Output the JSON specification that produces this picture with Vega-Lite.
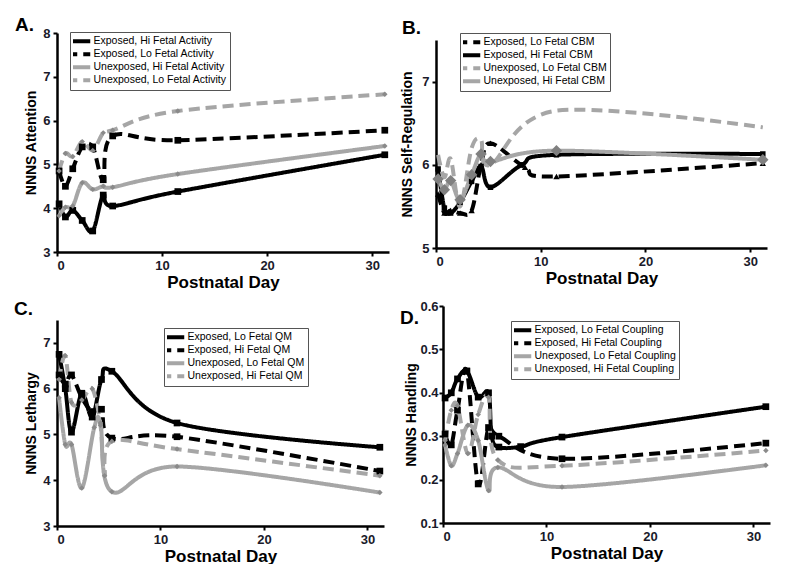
{
  "$schema": "https://vega.github.io/schema/vega-lite/v6.json",
  "background": "white",
  "padding": {"left": 14, "top": 16, "right": 0, "bottom": 0},
  "config": {
    "view": {"stroke": null},
    "font": "Liberation Sans",
    "axis": {
      "grid": false, "domainColor": "#000", "domainWidth": 2.5, "tickColor": "#000", "tickWidth": 2, "tickSize": 4,
      "labelFont": "Liberation Sans", "labelFontSize": 13, "labelFontWeight": "bold", "labelColor": "#1a1a2a",
      "titleFont": "Liberation Sans", "titleFontWeight": "bold", "titleColor": "#000"
    },
    "axisX": {"titleFontSize": 17, "titlePadding": 2, "labelPadding": 3},
    "axisY": {"titleFontSize": 14, "titlePadding": 4, "labelPadding": 3},
    "legend": {
      "orient": "none", "title": null, "symbolType": "M-4,0H4", "symbolStrokeWidth": 4, "symbolSize": 36,
      "labelFont": "Liberation Sans", "labelFontSize": 10.5, "labelLimit": 0, "labelOffset": 10,
      "strokeColor": "#555", "padding": 3, "rowPadding": 0, "clipHeight": 12.5, "symbolOffset": 0, "fillColor": "white"
    },
    "title": {"font": "Liberation Sans", "fontSize": 19, "fontWeight": "bold", "anchor": "start", "frame": "group", "color": "#000", "offset": -30}
  },
  "resolve": {
    "scale": {"x": "independent", "y": "independent", "color": "independent", "strokeDash": "independent"},
    "legend": {"color": "independent", "strokeDash": "independent"}
  },
  "columns": 2,
  "align": "none",
  "spacing": {"column": 7, "row": 10},
  "datasets": {
    "A": [
      {"series": "Exposed, Hi Fetal Activity", "day": 0.2, "value": 4.1},
      {"series": "Exposed, Hi Fetal Activity", "day": 0.8, "value": 3.8},
      {"series": "Exposed, Hi Fetal Activity", "day": 1.5, "value": 3.95},
      {"series": "Exposed, Hi Fetal Activity", "day": 2.4, "value": 3.72},
      {"series": "Exposed, Hi Fetal Activity", "day": 3.4, "value": 3.48},
      {"series": "Exposed, Hi Fetal Activity", "day": 4.4, "value": 4.3},
      {"series": "Exposed, Hi Fetal Activity", "day": 5.3, "value": 4.05},
      {"series": "Exposed, Hi Fetal Activity", "day": 11.5, "value": 4.38},
      {"series": "Exposed, Hi Fetal Activity", "day": 31.2, "value": 5.22},
      {"series": "Exposed, Lo Fetal Activity", "day": 0.2, "value": 4.85},
      {"series": "Exposed, Lo Fetal Activity", "day": 0.8, "value": 4.5},
      {"series": "Exposed, Lo Fetal Activity", "day": 1.5, "value": 4.9},
      {"series": "Exposed, Lo Fetal Activity", "day": 2.4, "value": 5.4},
      {"series": "Exposed, Lo Fetal Activity", "day": 3.4, "value": 5.4},
      {"series": "Exposed, Lo Fetal Activity", "day": 4.4, "value": 4.65},
      {"series": "Exposed, Lo Fetal Activity", "day": 5.3, "value": 5.65},
      {"series": "Exposed, Lo Fetal Activity", "day": 11.5, "value": 5.55},
      {"series": "Exposed, Lo Fetal Activity", "day": 31.2, "value": 5.78},
      {"series": "Unexposed, Hi Fetal Activity", "day": 0.2, "value": 3.83},
      {"series": "Unexposed, Hi Fetal Activity", "day": 0.8, "value": 4.02},
      {"series": "Unexposed, Hi Fetal Activity", "day": 1.5, "value": 4.05},
      {"series": "Unexposed, Hi Fetal Activity", "day": 2.4, "value": 4.58},
      {"series": "Unexposed, Hi Fetal Activity", "day": 3.4, "value": 4.43},
      {"series": "Unexposed, Hi Fetal Activity", "day": 4.4, "value": 4.5},
      {"series": "Unexposed, Hi Fetal Activity", "day": 5.3, "value": 4.48},
      {"series": "Unexposed, Hi Fetal Activity", "day": 11.5, "value": 4.78},
      {"series": "Unexposed, Hi Fetal Activity", "day": 31.2, "value": 5.42},
      {"series": "Unexposed, Lo Fetal Activity", "day": 0.2, "value": 4.85},
      {"series": "Unexposed, Lo Fetal Activity", "day": 0.8, "value": 5.25},
      {"series": "Unexposed, Lo Fetal Activity", "day": 1.5, "value": 5.18},
      {"series": "Unexposed, Lo Fetal Activity", "day": 2.4, "value": 5.52},
      {"series": "Unexposed, Lo Fetal Activity", "day": 3.4, "value": 5.32},
      {"series": "Unexposed, Lo Fetal Activity", "day": 4.4, "value": 5.72},
      {"series": "Unexposed, Lo Fetal Activity", "day": 5.3, "value": 5.78},
      {"series": "Unexposed, Lo Fetal Activity", "day": 11.5, "value": 6.22},
      {"series": "Unexposed, Lo Fetal Activity", "day": 31.2, "value": 6.6}
    ],
    "B": [
      {"series": "Exposed, Lo Fetal CBM", "day": 0.2, "value": 5.65},
      {"series": "Exposed, Lo Fetal CBM", "day": 0.8, "value": 5.42},
      {"series": "Exposed, Lo Fetal CBM", "day": 1.4, "value": 5.45},
      {"series": "Exposed, Lo Fetal CBM", "day": 2.3, "value": 5.42},
      {"series": "Exposed, Lo Fetal CBM", "day": 3.4, "value": 5.45},
      {"series": "Exposed, Lo Fetal CBM", "day": 4.3, "value": 6.0},
      {"series": "Exposed, Lo Fetal CBM", "day": 5.2, "value": 6.26},
      {"series": "Exposed, Lo Fetal CBM", "day": 8.5, "value": 5.97},
      {"series": "Exposed, Lo Fetal CBM", "day": 11.5, "value": 5.86},
      {"series": "Exposed, Lo Fetal CBM", "day": 31.2, "value": 6.02},
      {"series": "Exposed, Hi Fetal CBM", "day": 0.2, "value": 5.95},
      {"series": "Exposed, Hi Fetal CBM", "day": 0.8, "value": 5.48},
      {"series": "Exposed, Hi Fetal CBM", "day": 1.4, "value": 5.42},
      {"series": "Exposed, Hi Fetal CBM", "day": 2.3, "value": 5.55},
      {"series": "Exposed, Hi Fetal CBM", "day": 3.4, "value": 5.8},
      {"series": "Exposed, Hi Fetal CBM", "day": 4.3, "value": 5.98},
      {"series": "Exposed, Hi Fetal CBM", "day": 5.2, "value": 5.73},
      {"series": "Exposed, Hi Fetal CBM", "day": 8.2, "value": 6.0},
      {"series": "Exposed, Hi Fetal CBM", "day": 11.5, "value": 6.12},
      {"series": "Exposed, Hi Fetal CBM", "day": 31.2, "value": 6.13},
      {"series": "Unexposed, Lo Fetal CBM", "day": 0.2, "value": 6.12},
      {"series": "Unexposed, Lo Fetal CBM", "day": 0.8, "value": 5.85},
      {"series": "Unexposed, Lo Fetal CBM", "day": 1.4, "value": 6.07},
      {"series": "Unexposed, Lo Fetal CBM", "day": 2.3, "value": 5.5},
      {"series": "Unexposed, Lo Fetal CBM", "day": 3.4, "value": 6.2},
      {"series": "Unexposed, Lo Fetal CBM", "day": 4.3, "value": 6.3},
      {"series": "Unexposed, Lo Fetal CBM", "day": 5.2, "value": 6.0},
      {"series": "Unexposed, Lo Fetal CBM", "day": 11.5, "value": 6.65},
      {"series": "Unexposed, Lo Fetal CBM", "day": 31.2, "value": 6.45},
      {"series": "Unexposed, Hi Fetal CBM", "day": 0.2, "value": 5.83},
      {"series": "Unexposed, Hi Fetal CBM", "day": 0.8, "value": 5.7},
      {"series": "Unexposed, Hi Fetal CBM", "day": 1.4, "value": 5.81},
      {"series": "Unexposed, Hi Fetal CBM", "day": 2.3, "value": 5.58},
      {"series": "Unexposed, Hi Fetal CBM", "day": 3.4, "value": 5.88},
      {"series": "Unexposed, Hi Fetal CBM", "day": 4.3, "value": 6.13},
      {"series": "Unexposed, Hi Fetal CBM", "day": 5.2, "value": 6.04},
      {"series": "Unexposed, Hi Fetal CBM", "day": 11.5, "value": 6.17},
      {"series": "Unexposed, Hi Fetal CBM", "day": 31.2, "value": 6.06}
    ],
    "C": [
      {"series": "Exposed, Lo Fetal QM", "day": 0.2, "value": 6.75},
      {"series": "Exposed, Lo Fetal QM", "day": 0.8, "value": 6.0},
      {"series": "Exposed, Lo Fetal QM", "day": 1.4, "value": 5.05},
      {"series": "Exposed, Lo Fetal QM", "day": 2.4, "value": 5.9},
      {"series": "Exposed, Lo Fetal QM", "day": 3.4, "value": 5.38},
      {"series": "Exposed, Lo Fetal QM", "day": 4.3, "value": 6.2},
      {"series": "Exposed, Lo Fetal QM", "day": 5.3, "value": 6.38},
      {"series": "Exposed, Lo Fetal QM", "day": 11.6, "value": 5.25},
      {"series": "Exposed, Lo Fetal QM", "day": 31.2, "value": 4.72},
      {"series": "Exposed, Hi Fetal QM", "day": 0.2, "value": 6.3},
      {"series": "Exposed, Hi Fetal QM", "day": 0.8, "value": 6.1},
      {"series": "Exposed, Hi Fetal QM", "day": 1.4, "value": 6.3},
      {"series": "Exposed, Hi Fetal QM", "day": 2.4, "value": 5.8},
      {"series": "Exposed, Hi Fetal QM", "day": 3.4, "value": 5.5},
      {"series": "Exposed, Hi Fetal QM", "day": 4.3, "value": 5.55},
      {"series": "Exposed, Hi Fetal QM", "day": 5.3, "value": 4.92},
      {"series": "Exposed, Hi Fetal QM", "day": 11.6, "value": 4.95},
      {"series": "Exposed, Hi Fetal QM", "day": 31.2, "value": 4.2},
      {"series": "Unexposed, Lo Fetal QM", "day": 0.2, "value": 5.8},
      {"series": "Unexposed, Lo Fetal QM", "day": 0.8, "value": 4.78},
      {"series": "Unexposed, Lo Fetal QM", "day": 1.4, "value": 4.78},
      {"series": "Unexposed, Lo Fetal QM", "day": 2.4, "value": 3.83},
      {"series": "Unexposed, Lo Fetal QM", "day": 3.6, "value": 5.15},
      {"series": "Unexposed, Lo Fetal QM", "day": 4.2, "value": 5.25},
      {"series": "Unexposed, Lo Fetal QM", "day": 5.3, "value": 3.75},
      {"series": "Unexposed, Lo Fetal QM", "day": 11.6, "value": 4.3},
      {"series": "Unexposed, Lo Fetal QM", "day": 31.2, "value": 3.73},
      {"series": "Unexposed, Hi Fetal QM", "day": 0.2, "value": 6.2},
      {"series": "Unexposed, Hi Fetal QM", "day": 0.8, "value": 6.72},
      {"series": "Unexposed, Hi Fetal QM", "day": 1.4, "value": 5.7},
      {"series": "Unexposed, Hi Fetal QM", "day": 2.4, "value": 5.75},
      {"series": "Unexposed, Hi Fetal QM", "day": 3.4, "value": 6.0},
      {"series": "Unexposed, Hi Fetal QM", "day": 4.2, "value": 5.2},
      {"series": "Unexposed, Hi Fetal QM", "day": 4.6, "value": 4.1},
      {"series": "Unexposed, Hi Fetal QM", "day": 5.3, "value": 4.85},
      {"series": "Unexposed, Hi Fetal QM", "day": 11.6, "value": 4.68},
      {"series": "Unexposed, Hi Fetal QM", "day": 31.2, "value": 4.1}
    ],
    "D": [
      {"series": "Exposed, Lo Fetal Coupling", "day": 0.2, "value": 0.388},
      {"series": "Exposed, Lo Fetal Coupling", "day": 0.8, "value": 0.4},
      {"series": "Exposed, Lo Fetal Coupling", "day": 1.4, "value": 0.432},
      {"series": "Exposed, Lo Fetal Coupling", "day": 2.3, "value": 0.45},
      {"series": "Exposed, Lo Fetal Coupling", "day": 3.4, "value": 0.39},
      {"series": "Exposed, Lo Fetal Coupling", "day": 4.4, "value": 0.4},
      {"series": "Exposed, Lo Fetal Coupling", "day": 4.7, "value": 0.3},
      {"series": "Exposed, Lo Fetal Coupling", "day": 5.4, "value": 0.275},
      {"series": "Exposed, Lo Fetal Coupling", "day": 7.5, "value": 0.276},
      {"series": "Exposed, Lo Fetal Coupling", "day": 11.5, "value": 0.298},
      {"series": "Exposed, Lo Fetal Coupling", "day": 31.2, "value": 0.368},
      {"series": "Exposed, Hi Fetal Coupling", "day": 0.2, "value": 0.305},
      {"series": "Exposed, Hi Fetal Coupling", "day": 0.8, "value": 0.28},
      {"series": "Exposed, Hi Fetal Coupling", "day": 1.4, "value": 0.36},
      {"series": "Exposed, Hi Fetal Coupling", "day": 2.3, "value": 0.45},
      {"series": "Exposed, Hi Fetal Coupling", "day": 3.4, "value": 0.19},
      {"series": "Exposed, Hi Fetal Coupling", "day": 4.4, "value": 0.32},
      {"series": "Exposed, Hi Fetal Coupling", "day": 5.4, "value": 0.3},
      {"series": "Exposed, Hi Fetal Coupling", "day": 11.5, "value": 0.248},
      {"series": "Exposed, Hi Fetal Coupling", "day": 31.2, "value": 0.284},
      {"series": "Unexposed, Lo Fetal Coupling", "day": 0.2, "value": 0.28},
      {"series": "Unexposed, Lo Fetal Coupling", "day": 0.8, "value": 0.232},
      {"series": "Unexposed, Lo Fetal Coupling", "day": 1.4, "value": 0.26},
      {"series": "Unexposed, Lo Fetal Coupling", "day": 2.4, "value": 0.325},
      {"series": "Unexposed, Lo Fetal Coupling", "day": 3.4, "value": 0.29},
      {"series": "Unexposed, Lo Fetal Coupling", "day": 4.4, "value": 0.175},
      {"series": "Unexposed, Lo Fetal Coupling", "day": 5.3, "value": 0.228},
      {"series": "Unexposed, Lo Fetal Coupling", "day": 11.5, "value": 0.183},
      {"series": "Unexposed, Lo Fetal Coupling", "day": 31.2, "value": 0.233},
      {"series": "Unexposed, Hi Fetal Coupling", "day": 0.2, "value": 0.29},
      {"series": "Unexposed, Hi Fetal Coupling", "day": 0.8, "value": 0.36},
      {"series": "Unexposed, Hi Fetal Coupling", "day": 1.4, "value": 0.37},
      {"series": "Unexposed, Hi Fetal Coupling", "day": 2.4, "value": 0.26},
      {"series": "Unexposed, Hi Fetal Coupling", "day": 3.4, "value": 0.35},
      {"series": "Unexposed, Hi Fetal Coupling", "day": 4.4, "value": 0.39},
      {"series": "Unexposed, Hi Fetal Coupling", "day": 5.3, "value": 0.245},
      {"series": "Unexposed, Hi Fetal Coupling", "day": 11.5, "value": 0.232},
      {"series": "Unexposed, Hi Fetal Coupling", "day": 31.2, "value": 0.267}
    ]
  },
  "concat": [
    {
      "width": 332, "height": 219,
      "title": {"text": "A.", "dx": -42, "dy": -22},
      "data": {"name": "A"},
      "encoding": {
        "x": {"field": "day", "type": "quantitative", "scale": {"domain": [0, 31.6], "nice": false}, "axis": {"values": [0, 10, 20, 30], "title": "Postnatal Day"}},
        "y": {"field": "value", "type": "quantitative", "scale": {"domain": [3, 8], "nice": false}, "axis": {"values": [3, 4, 5, 6, 7, 8], "title": "NNNS  Attention"}}
      },
      "layer": [
        {
          "mark": {"type": "line", "interpolate": "cardinal", "strokeWidth": 4},
          "encoding": {
            "color": {"field": "series", "type": "nominal", "scale": {"domain": ["Exposed, Hi Fetal Activity", "Exposed, Lo Fetal Activity", "Unexposed, Hi Fetal Activity", "Unexposed, Lo Fetal Activity"], "range": ["#000000", "#000000", "#a6a6a6", "#a6a6a6"]}, "legend": {"legendX": 13, "legendY": -1}},
            "strokeDash": {"field": "series", "type": "nominal", "scale": {"domain": ["Exposed, Hi Fetal Activity", "Exposed, Lo Fetal Activity", "Unexposed, Hi Fetal Activity", "Unexposed, Lo Fetal Activity"], "range": [[1, 0], [11, 6], [1, 0], [11, 6]]}, "legend": {"legendX": 13, "legendY": -1}}
          }
        },
        {
          "transform": [{"filter": {"field": "series", "oneOf": ["Exposed, Hi Fetal Activity", "Exposed, Lo Fetal Activity"]}}],
          "mark": {"type": "square", "color": "#000", "size": 45, "opacity": 1},
          "encoding": {}
        },
        {
          "transform": [{"filter": {"field": "series", "oneOf": ["Unexposed, Hi Fetal Activity", "Unexposed, Lo Fetal Activity"]}}],
          "mark": {"type": "point", "shape": "diamond", "filled": true, "color": "#8a8a8a", "size": 30, "opacity": 1},
          "encoding": {}
        }
      ]
    },
    {
      "width": 331, "height": 215,
      "title": {"text": "B.", "dx": -34, "dy": -25},
      "data": {"name": "B"},
      "encoding": {
        "x": {"field": "day", "type": "quantitative", "scale": {"domain": [0, 31.6], "nice": false}, "axis": {"values": [0, 10, 20, 30], "title": "Postnatal Day"}},
        "y": {"field": "value", "type": "quantitative", "scale": {"domain": [5, 7.5], "nice": false, "range": [215, 7]}, "axis": {"values": [5, 6, 7], "title": "NNNS  Self-Regulation", "titlePadding": 7}}
      },
      "layer": [
        {
          "mark": {"type": "line", "interpolate": "cardinal", "strokeWidth": 4},
          "encoding": {
            "color": {"field": "series", "type": "nominal", "scale": {"domain": ["Exposed, Lo Fetal CBM", "Exposed, Hi Fetal CBM", "Unexposed, Lo Fetal CBM", "Unexposed, Hi Fetal CBM"], "range": ["#000000", "#000000", "#a6a6a6", "#a6a6a6"]}, "legend": {"legendX": 24, "legendY": 0}},
            "strokeDash": {"field": "series", "type": "nominal", "scale": {"domain": ["Exposed, Lo Fetal CBM", "Exposed, Hi Fetal CBM", "Unexposed, Lo Fetal CBM", "Unexposed, Hi Fetal CBM"], "range": [[11, 6], [1, 0], [11, 6], [1, 0]]}, "legend": {"legendX": 24, "legendY": 0}}
          }
        },
        {
          "transform": [{"filter": {"field": "series", "equal": "Exposed, Lo Fetal CBM"}}],
          "mark": {"type": "point", "shape": "triangle-up", "filled": true, "color": "#000", "size": 40, "opacity": 1},
          "encoding": {}
        },
        {
          "transform": [{"filter": {"field": "series", "equal": "Exposed, Hi Fetal CBM"}}],
          "mark": {"type": "square", "color": "#000", "size": 30, "opacity": 1},
          "encoding": {}
        },
        {
          "transform": [{"filter": {"field": "series", "equal": "Unexposed, Hi Fetal CBM"}}],
          "mark": {"type": "point", "shape": "diamond", "filled": true, "color": "#808080", "size": 130, "opacity": 1},
          "encoding": {}
        }
      ]
    },
    {
      "width": 327, "height": 222,
      "title": {"text": "C.", "dx": -43, "dy": -15},
      "data": {"name": "C"},
      "encoding": {
        "x": {"field": "day", "type": "quantitative", "scale": {"domain": [0, 31.6], "nice": false}, "axis": {"values": [0, 10, 20, 30], "title": "Postnatal Day"}},
        "y": {"field": "value", "type": "quantitative", "scale": {"domain": [3, 7.5], "nice": false, "range": [222, 16]}, "axis": {"values": [3, 4, 5, 6, 7], "title": "NNNS  Lethargy"}}
      },
      "layer": [
        {
          "mark": {"type": "line", "interpolate": "cardinal", "strokeWidth": 4},
          "encoding": {
            "color": {"field": "series", "type": "nominal", "scale": {"domain": ["Exposed, Lo Fetal QM", "Exposed, Hi Fetal QM", "Unexposed, Lo Fetal QM", "Unexposed, Hi Fetal QM"], "range": ["#000000", "#000000", "#a6a6a6", "#a6a6a6"]}, "legend": {"legendX": 107, "legendY": 24}},
            "strokeDash": {"field": "series", "type": "nominal", "scale": {"domain": ["Exposed, Lo Fetal QM", "Exposed, Hi Fetal QM", "Unexposed, Lo Fetal QM", "Unexposed, Hi Fetal QM"], "range": [[1, 0], [11, 6], [1, 0], [11, 6]]}, "legend": {"legendX": 107, "legendY": 24}}
          }
        },
        {
          "transform": [{"filter": {"field": "series", "oneOf": ["Exposed, Lo Fetal QM", "Exposed, Hi Fetal QM"]}}],
          "mark": {"type": "square", "color": "#000", "size": 45, "opacity": 1},
          "encoding": {}
        },
        {
          "transform": [{"filter": {"field": "series", "oneOf": ["Unexposed, Lo Fetal QM", "Unexposed, Hi Fetal QM"]}}],
          "mark": {"type": "point", "shape": "diamond", "filled": true, "color": "#8a8a8a", "size": 30, "opacity": 1},
          "encoding": {}
        }
      ]
    },
    {
      "width": 327, "height": 217,
      "title": {"text": "D.", "dx": -43, "dy": -2},
      "data": {"name": "D"},
      "encoding": {
        "x": {"field": "day", "type": "quantitative", "scale": {"domain": [0, 31.6], "nice": false}, "axis": {"values": [0, 10, 20, 30], "title": "Postnatal Day"}},
        "y": {"field": "value", "type": "quantitative", "scale": {"domain": [0.1, 0.6], "nice": false}, "axis": {"values": [0.1, 0.2, 0.3, 0.4, 0.5, 0.6], "format": ".1f", "title": "NNNS  Handling", "titlePadding": 1, "labelPadding": 1}}
      },
      "layer": [
        {
          "mark": {"type": "line", "interpolate": "cardinal", "strokeWidth": 4},
          "encoding": {
            "color": {"field": "series", "type": "nominal", "scale": {"domain": ["Exposed, Lo Fetal Coupling", "Exposed, Hi Fetal Coupling", "Unexposed, Lo Fetal Coupling", "Unexposed, Hi Fetal Coupling"], "range": ["#000000", "#000000", "#a6a6a6", "#a6a6a6"]}, "legend": {"legendX": 68, "legendY": 15}},
            "strokeDash": {"field": "series", "type": "nominal", "scale": {"domain": ["Exposed, Lo Fetal Coupling", "Exposed, Hi Fetal Coupling", "Unexposed, Lo Fetal Coupling", "Unexposed, Hi Fetal Coupling"], "range": [[1, 0], [11, 6], [1, 0], [11, 6]]}, "legend": {"legendX": 68, "legendY": 15}}
          }
        },
        {
          "transform": [{"filter": {"field": "series", "oneOf": ["Exposed, Lo Fetal Coupling", "Exposed, Hi Fetal Coupling"]}}],
          "mark": {"type": "square", "color": "#000", "size": 45, "opacity": 1},
          "encoding": {}
        },
        {
          "transform": [{"filter": {"field": "series", "oneOf": ["Unexposed, Lo Fetal Coupling", "Unexposed, Hi Fetal Coupling"]}}],
          "mark": {"type": "point", "shape": "diamond", "filled": true, "color": "#8a8a8a", "size": 30, "opacity": 1},
          "encoding": {}
        }
      ]
    }
  ]
}
